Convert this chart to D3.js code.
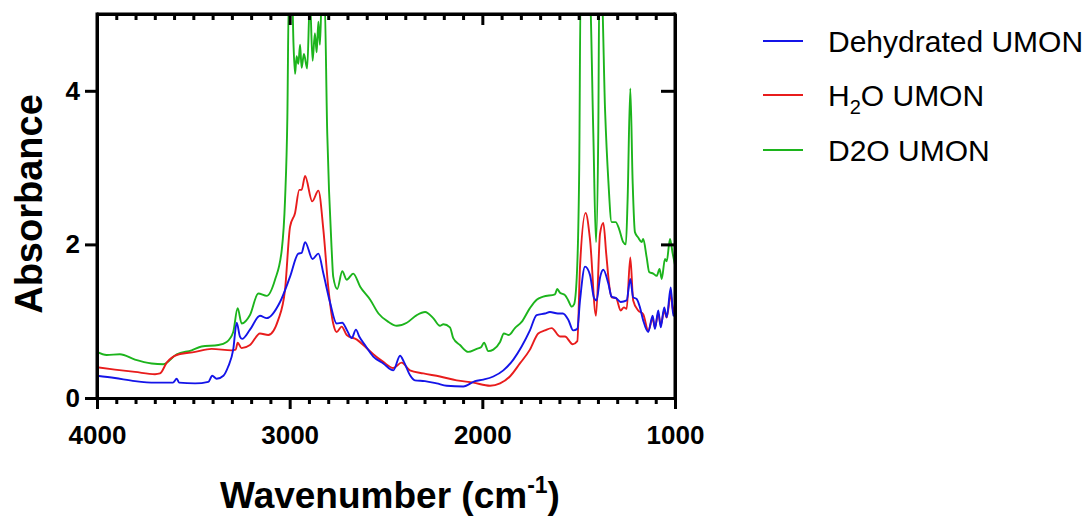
<!DOCTYPE html>
<html><head><meta charset="utf-8">
<script src="https://cdn.jsdelivr.net/npm/d3@7"></script>
<style>body{margin:0;background:#fff}svg{display:block}text{font-family:"Liberation Sans",Arial,sans-serif}</style>
</head><body><svg id="c" width="1091" height="516"></svg>
<script>
const seriesNames = ["Dehydrated UMON", "H2O UMON", "D2O UMON"];
const xTicks = [4000, 3000, 2000, 1000];
const yTicks = [0, 2, 4];

const dehydratedWn = [4000,3907,3803,3699,3606,3586,3574,3491,3422,3402,3379,3344,3319,3293,3275,3258,3247,3206,3154,3119,3050,2998,2955,2938,2920,2881,2851,2825,2791,2756,2727,2704,2678,2656,2639,2609,2566,2514,2462,2427,2407,2376,2350,2298,2237,2185,2099,2038,1995,1943,1891,1839,1796,1753,1718,1675,1649,1608,1582,1554,1528,1507,1493,1467,1441,1420,1407,1389,1372,1346,1329,1306,1282,1251,1232,1217,1199,1182,1165,1139,1116,1104,1087,1074,1056,1043,1022,1009,1000];
const dehydratedAbs = [0.29,0.26,0.22,0.20,0.20,0.25,0.20,0.19,0.21,0.29,0.25,0.29,0.41,0.63,0.98,0.80,0.77,0.89,1.07,1.04,1.25,1.58,1.88,1.89,2.03,1.81,1.88,1.62,1.25,0.97,0.98,0.89,0.78,0.89,0.80,0.69,0.54,0.45,0.36,0.55,0.47,0.30,0.23,0.22,0.19,0.16,0.15,0.22,0.24,0.28,0.36,0.50,0.67,0.88,1.08,1.10,1.12,1.10,1.10,1.02,0.88,0.90,1.27,1.71,1.60,1.30,1.27,1.57,1.67,1.49,1.32,1.30,1.25,1.27,1.55,1.31,1.29,1.18,1.01,0.86,1.07,0.90,1.14,0.92,1.18,1.05,1.44,1.07,1.12];

const h2oWn = [4000,3907,3803,3699,3673,3638,3586,3491,3405,3301,3280,3270,3250,3206,3154,3111,3059,3024,2998,2972,2950,2938,2920,2883,2851,2825,2800,2774,2756,2730,2704,2651,2609,2566,2514,2462,2419,2376,2306,2220,2133,2047,1960,1908,1857,1805,1753,1710,1675,1640,1597,1571,1531,1507,1493,1464,1441,1410,1389,1372,1357,1340,1329,1306,1282,1265,1251,1232,1217,1191,1165,1139,1116,1104,1087,1074,1056,1043,1022,1009,1000];
const h2oAbs = [0.40,0.37,0.34,0.31,0.32,0.46,0.56,0.60,0.64,0.62,0.63,0.72,0.65,0.69,0.84,0.82,1.02,1.41,2.23,2.41,2.71,2.71,2.89,2.56,2.70,2.19,1.45,0.97,0.86,0.93,0.82,0.76,0.67,0.57,0.47,0.39,0.46,0.36,0.32,0.28,0.23,0.20,0.16,0.19,0.28,0.45,0.63,0.84,0.88,0.91,0.80,0.80,0.70,0.74,1.71,2.41,2.06,1.07,2.14,2.28,1.88,1.44,1.31,1.30,1.14,1.18,1.16,1.83,1.27,1.14,1.09,0.88,1.03,0.92,1.10,0.95,1.14,1.05,1.35,1.12,1.22];

const d2oWn = [4000,3950,3881,3803,3716,3656,3586,3509,3457,3370,3327,3293,3270,3249,3206,3163,3119,3076,3041,3024,3012,3004,2988,2980,2972,2964,2955,2946,2938,2926,2909,2895,2881,2869,2860,2851,2843,2834,2820,2805,2782,2774,2753,2727,2704,2670,2634,2582,2539,2487,2444,2392,2340,2297,2255,2220,2202,2168,2151,2116,2073,2029,2007,1991,1969,1943,1908,1888,1862,1831,1796,1753,1718,1684,1623,1611,1597,1571,1554,1536,1524,1510,1497,1490,1443,1424,1410,1398,1393,1381,1363,1346,1329,1308,1290,1269,1255,1246,1232,1220,1208,1191,1173,1165,1147,1134,1113,1095,1080,1069,1052,1043,1026,1012,1000];
const d2oAbs = [0.60,0.56,0.57,0.50,0.45,0.44,0.57,0.62,0.67,0.69,0.73,0.86,1.17,0.97,1.08,1.36,1.33,1.54,1.93,2.58,3.66,5.3,5.3,4.6,4.22,4.45,4.35,4.6,4.3,4.48,4.29,5.2,4.39,4.75,4.5,4.9,4.6,5.2,5.3,3.45,1.93,1.58,1.42,1.65,1.54,1.62,1.45,1.28,1.10,0.99,0.94,0.98,1.08,1.12,1.04,0.94,0.96,0.92,0.78,0.69,0.60,0.64,0.66,0.72,0.61,0.63,0.73,0.84,0.82,0.91,0.99,1.17,1.28,1.32,1.35,1.42,1.37,1.34,1.27,1.19,1.22,1.57,3.01,5.3,5.3,3.45,2.03,3.5,5.3,5.3,3.75,2.83,2.29,2.29,2.2,2.03,2.0,2.58,4.03,2.83,2.16,2.09,2.03,2.07,1.83,1.64,1.62,1.59,1.68,1.55,1.81,1.78,2.07,1.88,1.73];

const colors = ["#1414e8", "#e81c1c", "#1cb41c"];

const mg = {left: 97, right: 675, top: 14, bottom: 398};
const svg = d3.select("#c");
const x = d3.scaleLinear().domain([4000, 1000]).range([mg.left, mg.right]);
const y = d3.scaleLinear().domain([0, 5]).range([mg.bottom, mg.top]);

svg.append("defs").append("clipPath").attr("id", "clip")
  .append("rect").attr("x", mg.left).attr("y", mg.top).attr("width", mg.right - mg.left).attr("height", mg.bottom - mg.top);

const series = [
  {wn: dehydratedWn, ab: dehydratedAbs},
  {wn: h2oWn, ab: h2oAbs},
  {wn: d2oWn, ab: d2oAbs}
];
const line = d3.line().x(d => x(d[0])).y(d => y(d[1])).curve(d3.curveMonotoneX);
const plotG = svg.append("g").attr("clip-path", "url(#clip)");
[2, 1, 0].forEach(i => {
  const s = series[i];
  const pts = s.wn.map((w, k) => [w, s.ab[k]]);
  plotG.append("path").datum(pts).attr("d", line).attr("fill", "none")
    .attr("stroke", colors[i]).attr("stroke-width", 1.9).attr("stroke-linejoin", "round");
});

const minor = d3.range(1000, 4001, 100).filter(v => v % 1000 !== 0);
const axBottom = svg.append("g").attr("transform", `translate(0,${mg.bottom})`)
  .call(d3.axisBottom(x).tickValues(xTicks).tickSize(11).tickSizeOuter(0).tickPadding(17).tickFormat(d3.format("d")));
axBottom.append("g").call(d3.axisBottom(x).tickValues(minor).tickSize(6).tickSizeOuter(0).tickFormat(""));
const axTop = svg.append("g").attr("transform", `translate(0,${mg.top})`)
  .call(d3.axisBottom(x).tickValues(xTicks).tickSize(11).tickSizeOuter(0).tickFormat(""));
axTop.append("g").call(d3.axisBottom(x).tickValues(minor).tickSize(6).tickSizeOuter(0).tickFormat(""));
const axLeft = svg.append("g").attr("transform", `translate(${mg.left},0)`)
  .call(d3.axisLeft(y).tickValues(yTicks).tickSize(12).tickSizeOuter(0).tickPadding(5).tickFormat(d3.format("d")));
const axRight = svg.append("g").attr("transform", `translate(${mg.right},0)`)
  .call(d3.axisLeft(y).tickValues([2, 4]).tickSize(14).tickSizeOuter(0).tickFormat(""));

[axBottom, axTop, axLeft, axRight].forEach(a => {
  a.selectAll("path.domain").attr("stroke", "#000").attr("stroke-width", 3);
  a.selectAll("line").attr("stroke", "#000").attr("stroke-width", 3);
  a.selectAll("text").attr("fill", "#000").style("font-size", "26px").style("font-weight", "bold")
    .style("font-family", '"Liberation Sans", Arial, sans-serif');
});
svg.append("line").attr("x1", mg.left).attr("x2", mg.right).attr("y1", mg.top).attr("y2", mg.top).attr("stroke", "#000").attr("stroke-width", 3);
svg.append("line").attr("x1", mg.right).attr("x2", mg.right).attr("y1", mg.top - 1.5).attr("y2", mg.bottom + 1.5).attr("stroke", "#000").attr("stroke-width", 3);
svg.append("line").attr("x1", mg.left).attr("x2", mg.left).attr("y1", mg.top - 1.5).attr("y2", mg.bottom + 1.5).attr("stroke", "#000").attr("stroke-width", 3);

svg.append("text").attr("x", 390).attr("y", 508).attr("text-anchor", "middle")
  .style("font-size", "37px").style("font-weight", "bold")
  .call(t => {
    t.append("tspan").text("Wavenumber (cm");
    t.append("tspan").attr("dy", -15).style("font-size", "23px").text("-1");
    t.append("tspan").attr("dy", 15).text(")");
  });
svg.append("text").attr("transform", "translate(42,204) rotate(-90)").attr("text-anchor", "middle")
  .style("font-size", "38px").style("font-weight", "bold").text("Absorbance");

const legY = [41, 95, 150];
seriesNames.forEach((n, i) => {
  svg.append("line").attr("x1", 763).attr("x2", 803).attr("y1", legY[i]).attr("y2", legY[i])
    .attr("stroke", colors[i]).attr("stroke-width", 1.9);
  const t = svg.append("text").attr("x", 828).attr("y", legY[i] + 11).style("font-size", "30px").attr("fill", "#000");
  if (i === 1) {
    t.append("tspan").text("H");
    t.append("tspan").attr("dy", 8).style("font-size", "20px").text("2");
    t.append("tspan").attr("dy", -8).text("O UMON");
  } else {
    t.text(n);
  }
});
</script></body></html>
